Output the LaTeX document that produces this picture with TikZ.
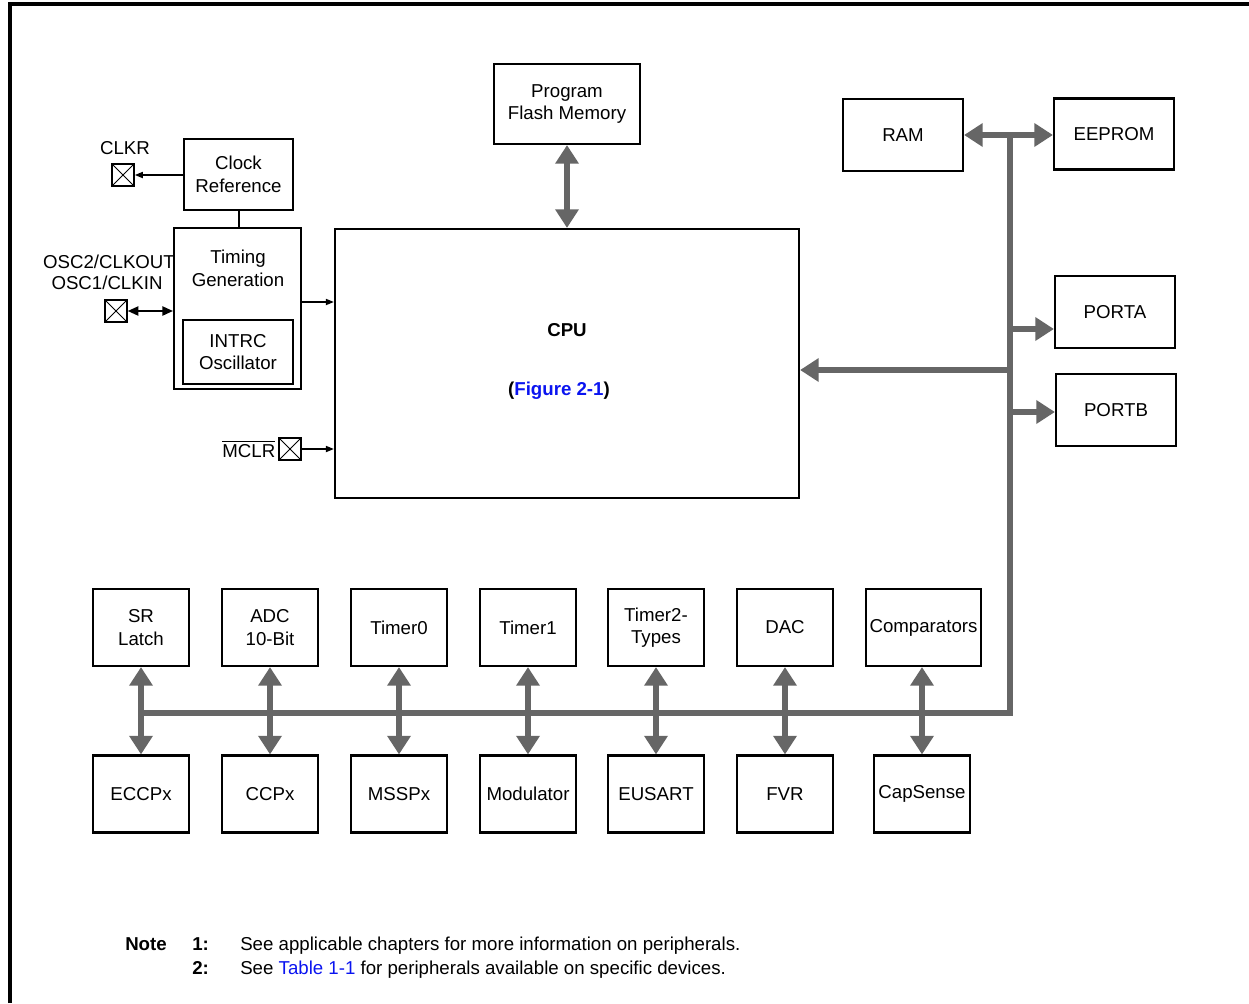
\documentclass[tikz,border=0pt]{standalone}
\usepackage{amsmath}
\usepackage{fontspec}
\setmainfont{Liberation Sans}
\usetikzlibrary{arrows.meta}

\definecolor{busgray}{RGB}{102,102,102}
\definecolor{linkblue}{RGB}{10,20,240}

\tikzset{
  blk/.style={draw, line width=1.6pt, align=center, inner sep=0pt},
  perbox/.style={blk, minimum width=72pt, minimum height=57.75pt},
  pinbox/.style={draw, line width=1.2pt, minimum size=16.5pt, inner sep=0pt,
    path picture={\draw[line width=0.6pt] (path picture bounding box.south west) -- (path picture bounding box.north east)
      (path picture bounding box.north west) -- (path picture bounding box.south east);}},
  bus/.style={draw=busgray, line width=4.5pt},
  busarr/.style={bus, -{Triangle[length=14pt,width=17pt]}},
  busdbl/.style={bus, {Triangle[length=14pt,width=17pt]}-{Triangle[length=14pt,width=17pt]}},
  sig/.style={line width=1.2pt, -{Triangle[length=6pt,width=4.5pt]}},
  notetxt/.style={anchor=base west, inner sep=0pt}
}

\begin{document}
\begin{tikzpicture}[x=0.75pt,y=0.75pt,yscale=-1,font=\fontsize{14}{17}\selectfont]
\useasboundingbox (0,0) rectangle (1249,1003);

% frame
\draw[line width=2.5pt] (10,1003) -- (10,4) -- (1249,4);

% core blocks
\node[blk, minimum width=109.5pt, minimum height=60pt] (flash) at (567,104) {Program\\Flash Memory};
\node[blk, minimum width=348pt, minimum height=201.75pt] (cpu) at (567,363.5) {};
\node[font=\fontsize{14}{17}\selectfont\bfseries] (cpulbl) at (567,330) {CPU};
\node[font=\fontsize{14}{17}\selectfont\bfseries] (figref) at (559,391) {(\textcolor{linkblue}{Figure 2-1})};

% clock section
\node[blk, minimum width=81.75pt, minimum height=53.25pt] (clkref) at (238.5,174.5) {Clock\\Reference};
\node[blk, minimum width=95.25pt, minimum height=120.75pt] (timing) at (237.5,308.5) {};
\node[align=center] (timinglbl) at (238,268) {Timing\\Generation};
\node[blk, minimum width=82.5pt, minimum height=48pt] (intrc) at (238,352) {INTRC\\Oscillator};
\draw[line width=1.5pt] (clkref.south) -- (timing.north -| clkref.south);

% pins
\node[pinbox] (clkrpin) at (123,175) {};
\node (clkrlbl) at (125,148) {CLKR};
\node[pinbox] (oscpin) at (116,311) {};
\node (osclbl2) at (109,262) {OSC2/CLKOUT};
\node (osclbl1) at (107,283) {OSC1/CLKIN};
\node[pinbox] (mclrpin) at (290,449) {};
\node[anchor=east, inner sep=2pt] (mclrlbl) at (mclrpin.west) {$\overline{\text{MCLR}}$};

\draw[sig] (clkref.west |- clkrpin) -- (clkrpin.east);
\draw[line width=1.2pt, {Triangle[length=8pt,width=7pt]}-{Triangle[length=8pt,width=7pt]}] (oscpin.east) -- (oscpin -| timing.west);
\draw[sig] (timing.east |- 0,302) -- (cpu.west |- 0,302);
\draw[sig] (mclrpin.east) -- (mclrpin -| cpu.west);

% memories and ports
\node[blk, minimum width=90pt, minimum height=54pt] (ram) at (903,135) {RAM};
\node[blk, minimum width=90pt, minimum height=53.25pt] (eeprom) at (1114,134) {EEPROM};
\node[blk, minimum width=90pt, minimum height=54pt] (porta) at (1115,312) {PORTA};
\node[blk, minimum width=90pt, minimum height=54pt] (portb) at (1116,410) {PORTB};

% bus
\coordinate (btop) at (1010,135);
\coordinate (bbot) at (1010,713);
\coordinate (bleft) at (141,713);
\draw[bus, line join=miter] (btop) -- (bbot) -- (bleft);
\draw[busdbl] (flash.south) -- (cpu.north);
\draw[busdbl] (ram.east) -- (ram.east -| eeprom.west);
\draw[busarr] (1010,329) -- (porta.west |- 0,329);
\draw[busarr] (1010,412) -- (portb.west |- 0,412);
\draw[busarr] (1010,370) -- (cpu.east |- 0,370);

% peripherals, top row
\node[perbox] (srl) at (141,627.5) {SR\\Latch};
\node[perbox] (adc) at (270,627.5) {ADC\\10-Bit};
\node[perbox] (tmr0) at (399,627.5) {Timer0};
\node[perbox] (tmr1) at (528,627.5) {Timer1};
\node[perbox] (tmr2) at (656,627.5) {Timer2-\\Types};
\node[perbox] (dac) at (785,627.5) {DAC};
\node[perbox, minimum width=86.25pt] (cmp) at (923.5,627.5) {Comparators};

% peripherals, bottom row
\node[perbox] (eccp) at (141,794) {ECCPx};
\node[perbox] (ccp) at (270,794) {CCPx};
\node[perbox] (mssp) at (399,794) {MSSPx};
\node[perbox] (modl) at (528,794) {Modulator};
\node[perbox] (usart) at (656,794) {EUSART};
\node[perbox] (fvr) at (785,794) {FVR};
\node[perbox] (caps) at (922,794) {CapSense};

\draw[busdbl] (srl.south) -- (eccp.north);
\draw[busdbl] (adc.south) -- (ccp.north);
\draw[busdbl] (tmr0.south) -- (mssp.north);
\draw[busdbl] (tmr1.south) -- (modl.north);
\draw[busdbl] (tmr2.south) -- (usart.north);
\draw[busdbl] (dac.south) -- (fvr.north);
\draw[busdbl] (caps.north |- cmp.south) -- (caps.north);

% notes
\node[notetxt, font=\fontsize{14}{17}\selectfont\bfseries] (note) at (125,950) {Note};
\node[notetxt, font=\fontsize{14}{17}\selectfont\bfseries] (n1) at (192,950) {1:};
\node[notetxt, font=\fontsize{14}{17}\selectfont\bfseries] (n2) at (192,974) {2:};
\node[notetxt] (t1) at (240,950) {See applicable chapters for more information on peripherals.};
\node[notetxt] (t2) at (240,974) {See \textcolor{linkblue}{Table 1-1} for peripherals available on specific devices.};

\end{tikzpicture}
\end{document}
